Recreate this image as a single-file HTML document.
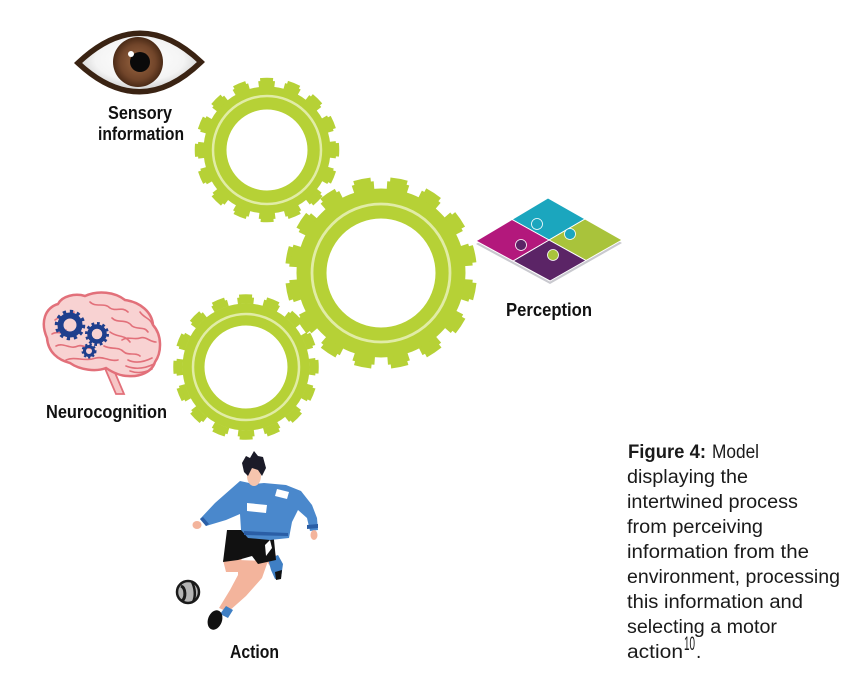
<!DOCTYPE html>
<html>
<head>
<meta charset="utf-8">
<style>
  html,body{margin:0;padding:0;background:#fff;}
  svg{display:block;}
  .lbl{font-family:"Liberation Sans",Arial,sans-serif;font-weight:bold;font-size:18px;fill:#111;}
  .cap{font-family:"Liberation Sans",Arial,sans-serif;font-size:19px;fill:#1a1a1a;}
</style>
</head>
<body>
<svg width="855" height="697" viewBox="0 0 855 697" xmlns="http://www.w3.org/2000/svg">
  <defs>
    <radialGradient id="eyeW" cx="50%" cy="45%" r="60%">
      <stop offset="0" stop-color="#ffffff"/>
      <stop offset="0.6" stop-color="#f4f4f4"/>
      <stop offset="1" stop-color="#bdbdbd"/>
    </radialGradient>
    <radialGradient id="iris" cx="50%" cy="50%" r="50%">
      <stop offset="0" stop-color="#9a6641"/>
      <stop offset="0.7" stop-color="#71452a"/>
      <stop offset="1" stop-color="#4a2a16"/>
    </radialGradient>
    <clipPath id="eyeClip">
      <path d="M78,63 Q140,4 201,62 Q140,121 78,63 Z"/>
    </clipPath>
  </defs>

  <!-- ===== Eye ===== -->
  <path d="M78,63 Q140,4 201,62 Q140,121 78,63 Z" fill="url(#eyeW)"/>
  <g clip-path="url(#eyeClip)">
    <circle cx="138" cy="62" r="25" fill="url(#iris)"/>
    <circle cx="140" cy="62" r="10" fill="#0a0a0a"/>
    <circle cx="131" cy="54" r="3" fill="#fff"/>
  </g>
  <path d="M78,63 Q140,4 201,62 Q140,121 78,63 Z" fill="none" stroke="#3a2313" stroke-width="5.5" stroke-linejoin="miter"/>

  <text class="lbl" x="108" y="119" textLength="64" lengthAdjust="spacingAndGlyphs">Sensory</text>
  <text class="lbl" x="98" y="140" textLength="86" lengthAdjust="spacingAndGlyphs">information</text>

  <!-- ===== Gears ===== -->
  <!-- Gear 1 (top) -->
  <g fill="none" stroke="#b6d136">
    <circle cx="267" cy="150" r="52" stroke-width="23"/>
    <circle cx="267" cy="150" r="66" stroke-width="6.5" pathLength="360" stroke-dasharray="14 8.5" stroke-dashoffset="7"/>
    <circle cx="267" cy="150" r="70" stroke-width="4.5" pathLength="360" stroke-dasharray="10.5 12" stroke-dashoffset="5.25"/>
    <circle cx="267" cy="150" r="54" stroke="#e1eca6" stroke-width="2.5"/>
  </g>
  <!-- Gear 3 (lower left) -->
  <g fill="none" stroke="#b6d136">
    <circle cx="246" cy="367" r="52.5" stroke-width="22"/>
    <circle cx="246" cy="367" r="66.5" stroke-width="6.5" pathLength="360" stroke-dasharray="14 8.5" stroke-dashoffset="7"/>
    <circle cx="246" cy="367" r="70.5" stroke-width="4.5" pathLength="360" stroke-dasharray="10.5 12" stroke-dashoffset="5.25"/>
    <circle cx="246" cy="367" r="53" stroke="#e1eca6" stroke-width="2.5"/>
  </g>
  <!-- Gear 2 (big) -->
  <g fill="none" stroke="#b6d136">
    <circle cx="381" cy="273" r="69.5" stroke-width="30"/>
    <circle cx="381" cy="273" r="88" stroke-width="8" pathLength="360" stroke-dasharray="14 8.5" stroke-dashoffset="18.25"/>
    <circle cx="381" cy="273" r="93.5" stroke-width="5" pathLength="360" stroke-dasharray="10.5 12" stroke-dashoffset="16.5"/>
    <circle cx="381" cy="273" r="69" stroke="#e1eca6" stroke-width="2.8"/>
  </g>

  <!-- ===== Puzzle ===== -->
  <polygon points="476,244 548,201 622,243 550,284" fill="#c9c9cf"/>
  <g stroke="#ffffff" stroke-width="1" stroke-linejoin="round">
    <polygon points="548,198 585,219 549,240 512,219.5" fill="#1ba6be"/>
    <polygon points="585,219 622,240 586,260.5 549,240" fill="#a9c33b"/>
    <polygon points="549,240 586,260.5 550,281 513,261" fill="#5b2466"/>
    <polygon points="512,219.5 549,240 513,261 476,241" fill="#b3187c"/>
  </g>
  <circle cx="537" cy="224" r="5.5" fill="#1ba6be" stroke="#fff" stroke-width="0.8"/>
  <circle cx="570" cy="234" r="5.5" fill="#1ba6be" stroke="#fff" stroke-width="0.8"/>
  <circle cx="521" cy="245" r="5.5" fill="#5b2466" stroke="#fff" stroke-width="0.8"/>
  <circle cx="553" cy="255" r="5.5" fill="#a9c33b" stroke="#fff" stroke-width="0.8"/>

  <text class="lbl" x="506" y="316" textLength="86" lengthAdjust="spacingAndGlyphs">Perception</text>

  <!-- ===== Brain ===== -->
  <path d="M104,366 L116,394 L124,394 L113,368 Z" fill="#f6c6c6" stroke="#e2707a" stroke-width="1.8"/>
  <path d="M47,338 C40,322 45,308 58,304 C62,296 75,293 85,296 C98,290 115,292 125,300 C140,302 152,312 153,325 C162,335 162,352 155,362 C152,372 140,377 128,376 C120,376 112,372 106,368 C96,372 80,370 70,363 C58,360 48,352 47,338 Z" fill="#f8d2d2" stroke="#e2707a" stroke-width="2.5"/>
  <g fill="none" stroke="#e2707a" stroke-width="1.6" stroke-linecap="round">
    <path d="M55,320 C62,314 68,318 74,312"/>
    <path d="M52,334 C58,330 62,336 66,330"/>
    <path d="M56,346 C64,342 70,350 78,346 C84,344 88,350 94,348"/>
    <path d="M90,302 C96,308 104,302 110,308 C116,312 122,306 128,312"/>
    <path d="M112,318 C118,324 126,318 132,326 C138,330 144,326 148,332"/>
    <path d="M110,332 C118,338 124,334 130,342"/>
    <path d="M104,346 C112,350 118,346 124,352 C128,356 136,352 140,356"/>
    <path d="M66,360 C76,356 84,362 96,358 C104,356 110,362 118,360"/>
    <path d="M128,360 C136,364 144,362 152,358"/>
    <path d="M126,366 C136,370 146,368 154,364"/>
    <path d="M130,371 C138,374 146,372 152,369"/>
    <path d="M140,312 C144,318 150,318 152,324"/>
    <path d="M122,340 C128,336 134,340 140,338 C146,336 150,342 156,342"/>
  </g>
  <!-- blue gears in brain -->
  <g fill="none" stroke="#1f3f8d">
    <circle cx="70" cy="325" r="9.5" stroke-width="6"/>
    <circle cx="70" cy="325" r="13.5" stroke-width="3.5" pathLength="360" stroke-dasharray="14 16"/>
    <circle cx="97" cy="334" r="7.5" stroke-width="4.5"/>
    <circle cx="97" cy="334" r="10.5" stroke-width="3" pathLength="360" stroke-dasharray="15 15"/>
    <circle cx="89" cy="351" r="4.5" stroke-width="3"/>
    <circle cx="89" cy="351" r="6.5" stroke-width="2" pathLength="360" stroke-dasharray="20 20"/>
  </g>

  <text class="lbl" x="46" y="418" textLength="121" lengthAdjust="spacingAndGlyphs">Neurocognition</text>

  <!-- ===== Football player ===== -->
  <polygon points="223,560 242,558 238,572 226,572" fill="#f3b49c"/>
  <polygon points="262,556 274,552 279,560 270,566" fill="#f3b49c"/>
  <polygon points="268,559 278,555 283,564 281,578 275,579 271,570" fill="#3f7fc4"/>
  <polygon points="275,572 282,570 281,579 276,580" fill="#111"/>
  <polygon points="238,560 268,561 262,578 246,596 228,612 219,608 230,590 238,575" fill="#f3b49c"/>
  <polygon points="226,606 233,610 228,618 220,614" fill="#3f7fc4"/>
  <ellipse cx="215" cy="620" rx="7" ry="10" transform="rotate(20 215 620)" fill="#111"/>
  <polygon points="227,530 273,530 276,560 258,564 252,556 238,560 223,562" fill="#111"/>
  <polygon points="265,545 270,540 272,548 266,556" fill="#fff"/>
  <path d="M240,481 L254,484 L264,483 L286,485 L301,491 L312,505 L317,518 L318,530 L310,531 L307,518 L298,510 L292,522 L289,538 L270,540 L248,538 L241,530 L240,514 L226,520 L206,526 L200,519 L215,503 Z" fill="#4a88cc"/>
  <polygon points="200,519 206,526 209,524 203,517" fill="#2a5ea6"/>
  <polygon points="307,525 318,524 318,528 307,529" fill="#2a5ea6"/>
  <polygon points="244,531 288,533 288,536 244,535" fill="#2a5ea6"/>
  <polygon points="247,503 267,505 266,513 247,511" fill="#fff"/>
  <polygon points="277,489 289,492 287,499 275,496" fill="#fff"/>
  <ellipse cx="197" cy="525" rx="4.5" ry="4" fill="#f3b49c"/>
  <ellipse cx="314" cy="535" rx="3.5" ry="5" fill="#f3b49c"/>
  <ellipse cx="254" cy="476" rx="7" ry="10" fill="#f5c4ad"/>
  <polygon points="242,463 246,456 250,458 254,451 258,456 263,457 266,468 262,476 258,470 252,468 248,476 244,472" fill="#1b1b28"/>
  <circle cx="188" cy="592" r="11" fill="#b4b4b4" stroke="#1a1a1a" stroke-width="2.5"/>
  <path d="M181,586 C186,588 186,598 182,601" fill="none" stroke="#1a1a1a" stroke-width="3"/>
  <path d="M192,582 C195,588 196,596 193,602" fill="none" stroke="#1a1a1a" stroke-width="2.5"/>

  <text class="lbl" x="230" y="658" textLength="49" lengthAdjust="spacingAndGlyphs">Action</text>

  <!-- ===== Caption ===== -->
  <text class="cap" x="628" y="458" font-weight="bold" textLength="78" lengthAdjust="spacingAndGlyphs">Figure 4:</text>
  <text class="cap" x="712" y="458" textLength="47" lengthAdjust="spacingAndGlyphs">Model</text>
  <text class="cap" x="627" y="483" textLength="121" lengthAdjust="spacingAndGlyphs">displaying the</text>
  <text class="cap" x="627" y="508" textLength="171" lengthAdjust="spacingAndGlyphs">intertwined process</text>
  <text class="cap" x="627" y="533" textLength="136" lengthAdjust="spacingAndGlyphs">from perceiving</text>
  <text class="cap" x="627" y="558" textLength="182" lengthAdjust="spacingAndGlyphs">information from the</text>
  <text class="cap" x="627" y="583" textLength="213" lengthAdjust="spacingAndGlyphs">environment, processing</text>
  <text class="cap" x="627" y="608" textLength="176" lengthAdjust="spacingAndGlyphs">this information and</text>
  <text class="cap" x="627" y="633" textLength="150" lengthAdjust="spacingAndGlyphs">selecting a motor</text>
  <text class="cap" x="627" y="658" textLength="56" lengthAdjust="spacingAndGlyphs">action</text>
  <text class="cap" x="684" y="650" font-size="12" textLength="11" lengthAdjust="spacingAndGlyphs">10</text>
  <text class="cap" x="696" y="658">.</text>
</svg>
</body>
</html>
